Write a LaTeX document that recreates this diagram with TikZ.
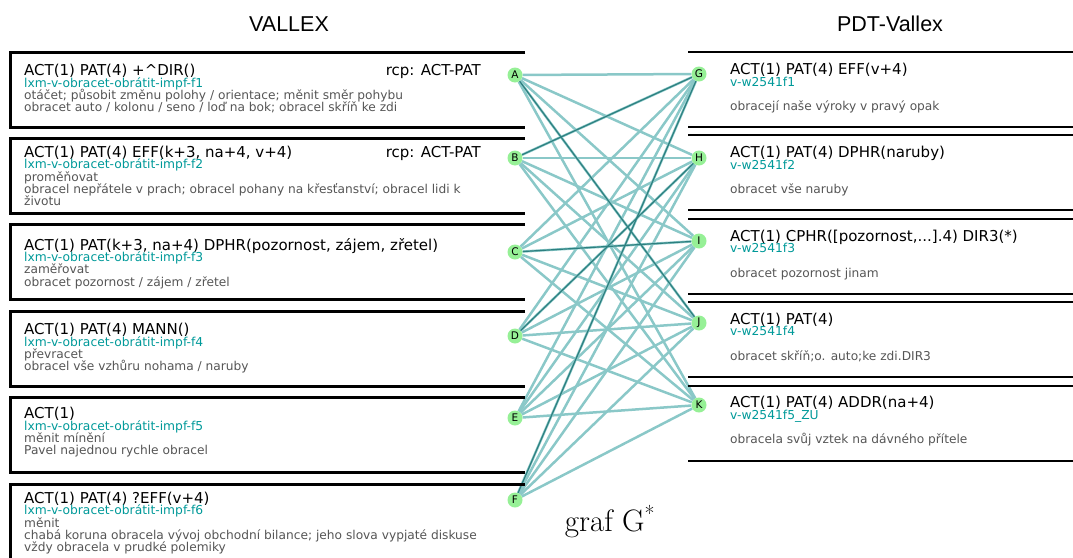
\documentclass[tikz,border=0pt]{standalone}
\usepackage{fontspec}
\newfontfamily\dejavu{DejaVu Sans}
\newfontfamily\arial{Liberation Sans}
\usetikzlibrary{backgrounds}
\definecolor{idteal}{RGB}{0,153,153}
\definecolor{glossgray}{RGB}{85,85,85}
\definecolor{edgeteal}{RGB}{138,200,200}
\definecolor{darkteal}{RGB}{45,128,128}
\definecolor{dotgreen}{RGB}{150,240,150}
\tikzstyle{head}=[inner sep=0, font=\arial\fontsize{21.5}{22}\selectfont]
\tikzstyle{vframe}=[line width=3pt]
\tikzstyle{pframe}=[line width=2.6pt]
\tikzstyle{frametext}=[anchor=base west, inner sep=0]
\tikzstyle{framemain}=[frametext, font=\dejavu\fontsize{15}{15}\selectfont]
\tikzstyle{rcp}=[framemain, anchor=base east]
\tikzstyle{frameid}=[frametext, text=idteal, font=\dejavu\fontsize{12.3}{12}\selectfont]
\tikzstyle{gloss}=[frametext, text=glossgray, font=\dejavu\fontsize{12.2}{12}\selectfont]
\tikzstyle{gdot}=[shape=circle, minimum size=15pt, inner sep=0, fill=dotgreen, font=\dejavu\fontsize{10.5}{10}\selectfont]
\tikzstyle{gedge}=[edgeteal, line width=2.5pt]
\tikzstyle{match}=[darkteal, line width=1.2pt]

\begin{document}
\begin{tikzpicture}[x=1pt,y=-1pt]
\useasboundingbox (0,0) rectangle (1073,557);
\clip (0,0) rectangle (1073,557);
\node[head] (vallex) at (289,24) {VALLEX};
\node[head] (pdt) at (890,24) {PDT-Vallex};

% VALLEX frames
\foreach \t in {52,138,224,311,397}
  \draw[vframe] (525,\t) -- (10,\t) -- (10,\t+75) -- (525,\t+75);
\draw[vframe] (525,484) -- (10,484) -- (10,570);

% PDT-Vallex frames
\foreach \t in {52,135,219,302,386}{
  \draw[pframe] (688,\t) -- (1080,\t);
  \draw[pframe] (688,\t+75) -- (1080,\t+75);
}

% VALLEX frames: texts
\node[framemain] (f1) at (24,75.5) {ACT(1) PAT(4) +\textasciicircum DIR()};
\node[rcp] (f1rcp) at (481,75.5) {rcp: ACT-PAT};
\node[frameid] (f1id) at (24,87) {lxm-v-obracet-obrátit-impf-f1};
\foreach \g [count=\k] in {{otáčet; působit změnu polohy / orientace; měnit směr pohybu},
                           {obracet auto / kolonu / seno / loď na bok; obracel skříň ke zdi}}
  \node[gloss] (f1g\k) at (24,87+12.3*\k) {\g};

\node[framemain] (f2) at (24,157.3) {ACT(1) PAT(4) EFF(k+3, na+4, v+4)};
\node[rcp] (f2rcp) at (481,157.3) {rcp: ACT-PAT};
\node[frameid] (f2id) at (24,168.8) {lxm-v-obracet-obrátit-impf-f2};
\foreach \g [count=\k] in {{proměňovat},
                           {obracel nepřátele v prach; obracel pohany na křesťanství; obracel lidi k},
                           {životu}}
  \node[gloss] (f2g\k) at (24,168.8+12.3*\k) {\g};

\node[framemain] (f3) at (24,250) {ACT(1) PAT(k+3, na+4) DPHR(pozornost, zájem, zřetel)};
\node[frameid] (f3id) at (24,261.5) {lxm-v-obracet-obrátit-impf-f3};
\foreach \g [count=\k] in {{zaměřovat},{obracet pozornost / zájem / zřetel}}
  \node[gloss] (f3g\k) at (24,261.5+12.3*\k) {\g};

\node[framemain] (f4) at (24,334.5) {ACT(1) PAT(4) MANN()};
\node[frameid] (f4id) at (24,346) {lxm-v-obracet-obrátit-impf-f4};
\foreach \g [count=\k] in {{převracet},{obracel vše vzhůru nohama / naruby}}
  \node[gloss] (f4g\k) at (24,346+12.3*\k) {\g};

\node[framemain] (f5) at (24,418.5) {ACT(1)};
\node[frameid] (f5id) at (24,430) {lxm-v-obracet-obrátit-impf-f5};
\foreach \g [count=\k] in {{měnit mínění},{Pavel najednou rychle obracel}}
  \node[gloss] (f5g\k) at (24,430+12.3*\k) {\g};

\node[framemain] (f6) at (24,503.3) {ACT(1) PAT(4) ?EFF(v+4)};
\node[frameid] (f6id) at (24,514.8) {lxm-v-obracet-obrátit-impf-f6};
\foreach \g [count=\k] in {{měnit},
                           {chabá koruna obracela vývoj obchodní bilance; jeho slova vypjaté diskuse},
                           {vždy obracela v prudké polemiky}}
  \node[gloss] (f6g\k) at (24,514.8+12.3*\k) {\g};

% PDT-Vallex frames: texts
\node[framemain] (w1) at (730,74.5) {ACT(1) PAT(4) EFF(v+4)};
\node[frameid] (w1id) at (730,86) {v-w2541f1};
\node[gloss] (w1g) at (730,110.5) {obracejí naše výroky v pravý opak};

\node[framemain] (w2) at (730,157.5) {ACT(1) PAT(4) DPHR(naruby)};
\node[frameid] (w2id) at (730,169) {v-w2541f2};
\node[gloss] (w2g) at (730,193.5) {obracet vše naruby};

\node[framemain] (w3) at (730,241) {ACT(1) CPHR([pozornost,...].4) DIR3(*)};
\node[frameid] (w3id) at (730,252.5) {v-w2541f3};
\node[gloss] (w3g) at (730,277) {obracet pozornost jinam};

\node[framemain] (w4) at (730,324) {ACT(1) PAT(4)};
\node[frameid] (w4id) at (730,335.5) {v-w2541f4};
\node[gloss] (w4g) at (730,360) {obracet skříň;o. auto;ke zdi.DIR3};

\node[framemain] (w5) at (730,407.5) {ACT(1) PAT(4) ADDR(na+4)};
\node[frameid] (w5id) at (730,419) {v-w2541f5\_ZU};
\node[gloss] (w5g) at (730,443.5) {obracela svůj vztek na dávného přítele};

% graph
\node[gdot] (A) at (515,75) {A};
\node[gdot] (B) at (515,158) {B};
\node[gdot] (C) at (515,252) {C};
\node[gdot] (D) at (515,336) {D};
\node[gdot] (E) at (515,418) {E};
\node[gdot] (F) at (515,500) {F};
\node[gdot] (G) at (699,74) {G};
\node[gdot] (H) at (699,158) {H};
\node[gdot] (I) at (699,241) {I};
\node[gdot] (J) at (699,323) {J};
\node[gdot] (K) at (699,405) {K};
\begin{scope}[on background layer]
\foreach \a in {A,...,F}
  \foreach \b in {G,...,K}
    \draw[gedge] (\a) -- (\b);
\foreach \a/\b in {A/J,B/G,C/I,D/H,F/G}
  \draw[match] (\a) -- (\b);
\end{scope}

\node[font=\fontsize{31}{32}\selectfont, anchor=base] (graf) at (610,531) {graf G\textsuperscript{*}};
\end{tikzpicture}
\end{document}
